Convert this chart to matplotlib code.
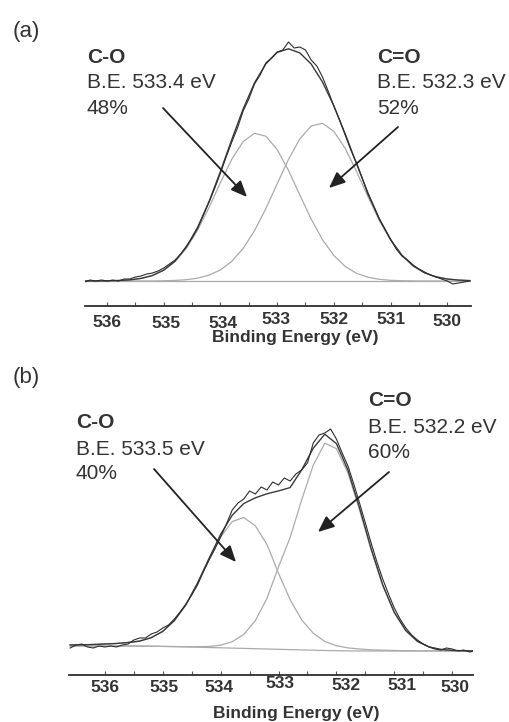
import matplotlib
matplotlib.use("Agg")
import matplotlib.pyplot as plt
from matplotlib.patches import FancyArrowPatch
from matplotlib.transforms import ScaledTranslation

plt.rcParams['font.family'] = ['Liberation Sans', 'DejaVu Sans']

W, H = 510, 722

# ---- panel (a): O 1s fit, energies in eV, intensity in a.u. ----
E_A = [536.4, 536.2, 536.0, 535.8, 535.6, 535.4, 535.2, 535.0, 534.8, 534.6,
       534.4, 534.2, 534.0, 533.8, 533.6, 533.4, 533.2, 533.0, 532.8, 532.6,
       532.4, 532.2, 532.0, 531.8, 531.6, 531.4, 531.2, 531.0, 530.8, 530.6,
       530.4, 530.2, 530.0, 529.8, 529.6]
BASE_A = 25
CO_A = [0, 0, 0.1, 0.5, 1.1, 2.6, 5.5, 10.7, 19.4, 32.8,
        51.1, 73.7, 98.5, 121.8, 139.4, 147.7, 144.8, 131.5, 110.6, 86.0,
        62.0, 41.3, 25.5, 14.6, 7.7, 3.8, 1.7, 0.7, 0.3, 0.1,
        0, 0, 0, 0, 0]
CDO_A = [0, 0, 0, 0, 0, 0, 0, 0.2, 0.6, 1.3,
         2.9, 5.9, 11.1, 19.7, 32.6, 50.3, 72.3, 97.1, 121.6, 142.1,
         155.0, 157.7, 149.7, 132.6, 109.6, 84.5, 60.8, 40.8, 25.6, 15.0,
         8.2, 4.2, 2.0, 0.9, 0.4]

EM_A = [536.4, 536.3, 536.2, 536.1, 536.0, 535.9, 535.8, 535.7, 535.6, 535.5,
        535.4, 535.3, 535.2, 535.1, 535.0, 534.9, 534.8, 534.7, 534.6, 534.5,
        534.4, 534.3, 534.2, 534.1, 534.0, 533.9, 533.8, 533.7, 533.6, 533.5,
        533.4, 533.3, 533.2, 533.1, 533.0, 532.9, 532.8, 532.7, 532.6, 532.5,
        532.4, 532.3, 532.2, 532.1, 532.0, 531.9, 531.8, 531.7, 531.6, 531.5,
        531.4, 531.3, 531.2, 531.1, 531.0, 530.9, 530.8, 530.7, 530.6, 530.5,
        530.4, 530.3, 530.2, 530.1, 530.0, 529.9, 529.8, 529.7, 529.6]
MEAS_A = [24, 26, 25, 26, 25, 26, 25, 27, 27, 29,
          30, 32, 33, 35, 38, 42, 46, 52, 60, 68,
          78, 91, 104, 118, 133, 149, 164, 178, 195, 207,
          222, 231, 243, 248, 254, 256, 264, 258, 259, 256,
          246, 240, 229, 215, 200, 186, 171, 156, 143, 128,
          112, 100, 87, 77, 67, 57, 50, 46, 41, 37,
          34, 31, 29, 27, 25, 22, 23, 24, 25]

# ---- panel (b) ----
E_B = [536.6, 536.4, 536.2, 536.0, 535.8, 535.6, 535.4, 535.2, 535.0, 534.8,
       534.6, 534.4, 534.2, 534.0, 533.8, 533.6, 533.4, 533.2, 533.0, 532.8,
       532.6, 532.4, 532.2, 532.0, 531.8, 531.6, 531.4, 531.2, 531.0, 530.8,
       530.6, 530.4, 530.2, 530.0, 529.8, 529.6]
BASE_B = [29.0, 29.0, 29.0, 29.0, 29.0, 29.0, 28.9, 28.8, 28.6, 28.4,
          28.1, 27.8, 27.5, 27.2, 26.9, 26.6, 26.3, 26.0, 25.7, 25.4,
          25.1, 24.8, 24.5, 24.3, 24.1, 24.0, 24.0, 24.0, 24.0, 24.0,
          24.0, 24.0, 24.0, 24.0, 24.0, 24.0]
CO_B = [1.0, 1.2, 1.5, 2.0, 2.5, 3.5, 5.0, 8.5, 15.0, 26.0,
        42.0, 63.6, 88.1, 110.9, 126.5, 130.9, 122.8, 104.6, 76.0, 50.0,
        30.0, 17.0, 9.0, 5.0, 3.0, 2.0, 1.2, 0.8, 0.5, 0.3,
        0.2, 0, 0, 0, 0, 0]
CDO_B = [0, 0, 0, 0, 0, 0, 0, 0, 0, 0,
         0.2, 0.5, 1.0, 2.6, 6.4, 14.0, 28.1, 50.6, 82.4, 112.0,
         150.0, 185.0, 207.3, 202.1, 177.8, 141.1, 101.1, 65.4, 38.2, 20.1,
         9.5, 4.1, 1.6, 0.6, 0.2, 0.1]

EM_B = [536.6, 536.5, 536.4, 536.3, 536.2, 536.1, 536.0, 535.9, 535.8, 535.7,
        535.6, 535.5, 535.4, 535.3, 535.2, 535.1, 535.0, 534.9, 534.8, 534.7,
        534.6, 534.5, 534.4, 534.3, 534.2, 534.1, 534.0, 533.9, 533.8, 533.7,
        533.6, 533.5, 533.4, 533.3, 533.2, 533.1, 533.0, 532.9, 532.8, 532.7,
        532.6, 532.5, 532.4, 532.3, 532.2, 532.1, 532.0, 531.9, 531.8, 531.7,
        531.6, 531.5, 531.4, 531.3, 531.2, 531.1, 531.0, 530.9, 530.8, 530.7,
        530.6, 530.5, 530.4, 530.3, 530.2, 530.1, 530.0, 529.9, 529.8, 529.7,
        529.6]
MEAS_B = [27, 30, 31, 28, 27, 29, 28, 29, 28, 30,
          31, 35, 37, 37, 41, 43, 47, 50, 56, 63,
          71, 80, 90, 103, 115, 126, 138, 151, 165, 172,
          176, 184, 181, 188, 185, 193, 190, 197, 194, 201,
          205, 212, 232, 240, 242, 246, 236, 222, 209, 191,
          172, 152, 132, 113, 96, 81, 67, 56, 47, 40,
          35, 31, 28, 26, 25, 27, 26, 24, 25, 23,
          24]

TICK_LABELS = ['536', '535', '534', '533', '532', '531', '530']
TICK_POS = [536, 535, 534, 533, 532, 531, 530]
MINOR_POS = [536.0, 535.5, 535.0, 534.5, 534.0, 533.5, 533.0, 532.5,
             532.0, 531.5, 531.0, 530.5, 530.0]

TXT = '#333333'
DARK = '#2e2e2e'
LIGHT = '#ababab'

fig = plt.figure(figsize=(W / 100, H / 100), dpi=100)


def px_ax(left, top, right, bottom):
    return fig.add_axes([left / W, 1 - bottom / H, (right - left) / W, (bottom - top) / H])


def ftext(x, y, s, **kw):
    fig.text(x / W, 1 - y / H, s, va='baseline', ha='left', color=TXT, **kw)


def arrow(x0, y0, x1, y1):
    fig.add_artist(FancyArrowPatch((x0 / W, 1 - y0 / H), (x1 / W, 1 - y1 / H),
                                   transform=fig.transFigure,
                                   arrowstyle='-|>,head_length=0.7,head_width=0.3',
                                   mutation_scale=14, lw=1.3, color='#222222',
                                   shrinkA=0, shrinkB=0))


def style_axis(ax, xlim, ylim, offsets, lab_xy):
    ax.set_xlim(*xlim)
    ax.set_ylim(*ylim)
    for side in ['top', 'left', 'right']:
        ax.spines[side].set_visible(False)
    ax.spines['bottom'].set_linewidth(1.3)
    ax.spines['bottom'].set_color(DARK)
    ax.set_yticks([])
    ax.set_xticks(MINOR_POS)
    ax.tick_params(axis='x', direction='in', length=3, width=0.8,
                   color='#555555', labelbottom=False)
    for pos, lab, (dx, dy) in zip(TICK_POS, TICK_LABELS, offsets):
        tr = ax.get_xaxis_transform() + ScaledTranslation(dx / 100, -dy / 100,
                                                          fig.dpi_scale_trans)
        ax.text(pos, 0, lab, transform=tr, ha='center', va='top',
                fontsize=12.5, fontweight='bold', color=TXT)
    ax.set_xlabel('Binding Energy (eV)', fontsize=12.5, fontweight='bold', color=TXT)
    ax.xaxis.set_label_coords(*lab_xy)


# panel (a)
ax1 = px_ax(85, 30, 471, 306)
ax1.plot(E_A, [BASE_A] * len(E_A), color=LIGHT, lw=0.9)
ax1.plot(E_A, [BASE_A + v for v in CO_A], color=LIGHT, lw=0.9)
ax1.plot(E_A, [BASE_A + v for v in CDO_A], color=LIGHT, lw=0.9)
ax1.plot(E_A, [BASE_A + a + b for a, b in zip(CO_A, CDO_A)], color='#3a3a3a', lw=1.0)
ax1.plot(EM_A, MEAS_A, color=DARK, lw=0.8)
style_axis(ax1, (536.39, 529.58), (0, 276),
           [(0, 9), (2, 10), (2, 10), (-1, 6.5), (0, 6.5), (0, 6.5), (0, 8.5)],
           (0.544, -0.087))

# panel (b)
ax2 = px_ax(69, 425, 473, 675)
ax2.plot(E_B, BASE_B, color=LIGHT, lw=0.9)
ax2.plot(E_B, [b + v for b, v in zip(BASE_B, CO_B)], color=LIGHT, lw=0.9)
ax2.plot(E_B, [b + v for b, v in zip(BASE_B, CDO_B)], color=LIGHT, lw=0.9)
ax2.plot(E_B, [b + u + v for b, u, v in zip(BASE_B, CO_B, CDO_B)], color='#3a3a3a', lw=1.0)
ax2.plot(EM_B, MEAS_B, color=DARK, lw=0.8)
style_axis(ax2, (536.62, 529.64), (0, 250),
           [(0, 5), (1, 5), (-2, 5.5), (1, 1.5), (10, 2.5), (8, 2.5), (3, 4.5)],
           (0.562, -0.124))

# labels and annotations
ftext(13, 37, '(a)', fontsize=16)
ftext(87, 63, 'C-O', fontsize=15, fontweight='bold')
ftext(87, 88, 'B.E. 533.4 eV', fontsize=15)
ftext(87, 114, '48%', fontsize=15)
ftext(377, 63, 'C=O', fontsize=15, fontweight='bold')
ftext(377, 88, 'B.E. 532.3 eV', fontsize=15)
ftext(377, 114, '52%', fontsize=15)
arrow(163, 108, 247, 197)
arrow(398, 127, 329, 188)

ftext(13, 383, '(b)', fontsize=16)
ftext(76, 428, 'C-O', fontsize=15, fontweight='bold')
ftext(76, 455, 'B.E. 533.5 eV', fontsize=15)
ftext(76, 479, '40%', fontsize=15)
ftext(368, 406, 'C=O', fontsize=15, fontweight='bold')
ftext(368, 433, 'B.E. 532.2 eV', fontsize=15)
ftext(368, 458, '60%', fontsize=15)
arrow(154, 469, 236, 562)
arrow(389, 472, 318, 532)

fig.savefig('out.png', dpi=100)
